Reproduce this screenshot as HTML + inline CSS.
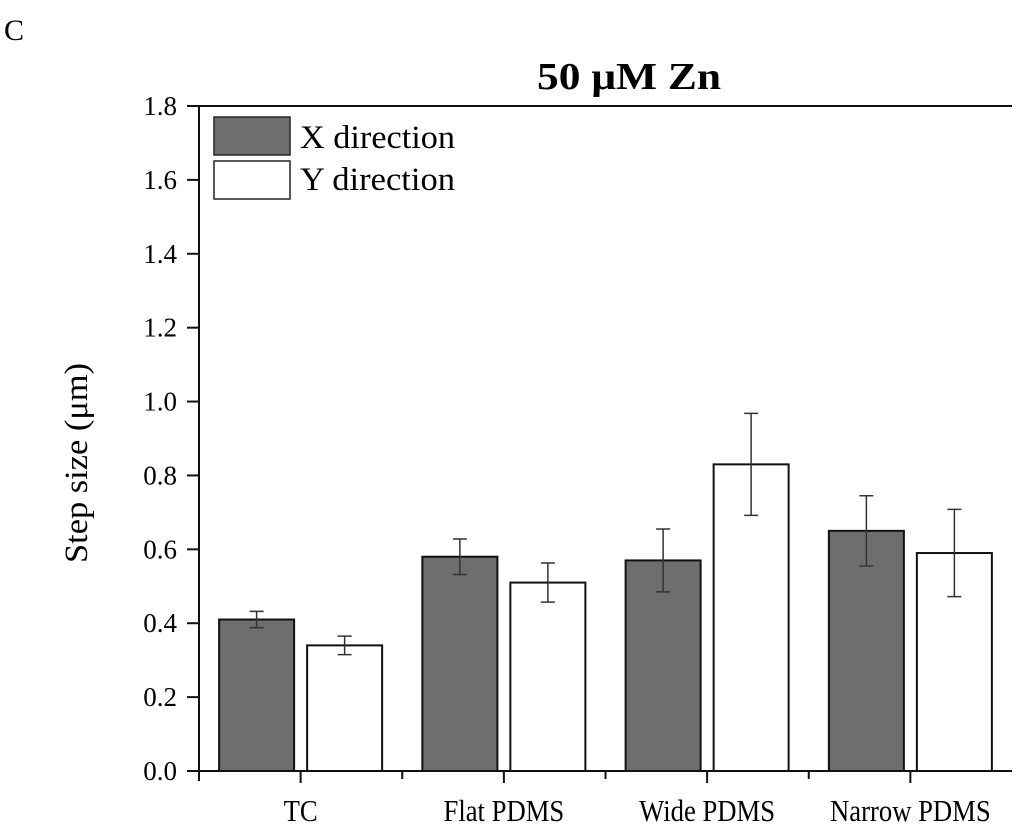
<!DOCTYPE html>
<html><head><meta charset="utf-8"><style>
body{margin:0;background:#fff;}
svg{display:block;font-family:"Liberation Serif",serif;}
</style></head><body>
<svg width="1024" height="824">
<text x="4" y="40" font-size="30">C</text>
<text x="537" y="89" font-size="38" font-weight="bold" textLength="184" lengthAdjust="spacingAndGlyphs">50 μM Zn</text>
<text transform="translate(87,463) rotate(-90)" font-size="33" text-anchor="middle" textLength="200" lengthAdjust="spacingAndGlyphs">Step size (μm)</text>
<g id="plot"></g>
<g>
<rect x="214" y="117" width="76" height="38" fill="#6e6e6e" stroke="#222" stroke-width="1.5"/>
<text x="300" y="148" font-size="33" textLength="155" lengthAdjust="spacingAndGlyphs">X direction</text>
<rect x="214" y="161" width="76" height="38" fill="#fff" stroke="#222" stroke-width="1.5"/>
<text x="300" y="190" font-size="33" textLength="155" lengthAdjust="spacingAndGlyphs">Y direction</text>
</g>
</svg>
<script>
const categories=["TC","Flat PDMS","Wide PDMS","Narrow PDMS"];
const xValues=[0.41,0.58,0.57,0.65];
const xErrors=[0.022,0.048,0.085,0.095];
const yValues=[0.34,0.51,0.83,0.59];
const yErrors=[0.025,0.053,0.138,0.118];
const yTicks=["0.0","0.2","0.4","0.6","0.8","1.0","1.2","1.4","1.6","1.8"];
const NS="http://www.w3.org/2000/svg";
const g=document.getElementById('plot');
const L=199,R=1012,T=106,B=771,yMax=1.8;
const ys=v=>B-(v/yMax)*(B-T);
const step=(R-L)/categories.length;
const xc=i=>L+step*(i+0.5);
function mk(t,a){const e=document.createElementNS(NS,t);for(const k in a)e.setAttribute(k,a[k]);g.appendChild(e);return e;}
let e;
e=mk('line',{x1:L,y1:T,x2:R,y2:T,stroke:'#111','stroke-width':2});


e=mk('line',{x1:L,y1:T-1,x2:L,y2:B+10,stroke:'#111','stroke-width':2});


e=mk('line',{x1:187,y1:B,x2:R,y2:B,stroke:'#111','stroke-width':2});


yTicks.forEach(t=>{const y=ys(parseFloat(t));
 e=mk('line',{x1:L-12,y1:y,x2:L,y2:y,stroke:'#111','stroke-width':2});
 
 
 e=mk('text',{x:177,y:y+9,'font-size':27,'text-anchor':'end'});e.textContent=t;
 
 
});
const bw=75,gap=13;
categories.forEach((c,i)=>{
 const cx=xc(i);
 e=mk('line',{x1:cx,y1:B,x2:cx,y2:B+12,stroke:'#111','stroke-width':2});
 
 
 if(i<categories.length-1){e=mk('line',{x1:cx+step/2,y1:B,x2:cx+step/2,y2:B+8,stroke:'#111','stroke-width':2});
 
 }
 e=mk('text',{x:cx,y:821,'font-size':31,'text-anchor':'middle'});e.textContent=c;
 
 
 const nat=e.getComputedTextLength();
 e.setAttribute('textLength',nat*0.86);
 e.setAttribute('lengthAdjust','spacingAndGlyphs');
 [[xValues,xErrors,'#6e6e6e',cx-gap/2-bw,'bar-x-'],[yValues,yErrors,'#fff',cx+gap/2,'bar-y-']].forEach(s=>{
  const v=s[0][i],er=s[1][i],x0=s[3];
  e=mk('rect',{x:x0,y:ys(v),width:bw,height:B-ys(v),fill:s[2],stroke:'#111','stroke-width':2});
  
  
  const m=x0+bw/2;
  e=mk('path',{d:`M${m},${ys(v+er)}V${ys(v-er)}M${m-7},${ys(v+er)}h14M${m-7},${ys(v-er)}h14`,stroke:'#333','stroke-width':1.5,fill:'none'});
  
  
 });
});
</script>
</body></html>
